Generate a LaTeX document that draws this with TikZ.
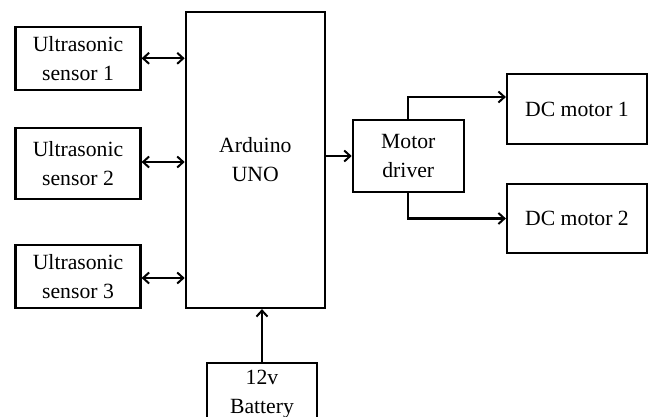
\documentclass[tikz,border=0pt]{standalone}
\usepackage{fontspec}
\setmainfont{Liberation Serif}
\usetikzlibrary{arrows.meta}
\begin{document}
\begin{tikzpicture}[x=1pt,y=-1pt,
  blk/.style={draw,line width=2.2pt,inner sep=0pt,align=center,
    font=\fontsize{21.7}{29}\selectfont},
  tip/.style={Straight Barb[length=6pt,width=11pt,line width=2pt]},
  conn/.style={line width=2.2pt,-{Straight Barb[length=6pt,width=11pt,line width=2pt]}},
  bconn/.style={line width=2.2pt,{Straight Barb[length=6pt,width=11pt,line width=2pt]}-{Straight Barb[length=6pt,width=11pt,line width=2pt]}}]
\useasboundingbox (0,0) rectangle (651,416);
\clip (0,0) rectangle (651,416);
\fill[white] (0,0) rectangle (651,416);
\node[blk,minimum width=125pt,minimum height=63pt] (s1) at (78,58.3) {Ultrasonic\\sensor 1};
\node[blk,minimum width=125pt,minimum height=71pt] (s2) at (78,163.5) {Ultrasonic\\sensor 2};
\node[blk,minimum width=125pt,minimum height=63pt] (s3) at (78,276.5) {Ultrasonic\\sensor 3};
\node[blk,minimum width=139pt,minimum height=296pt] (ard) at (255.3,160) {Arduino\\UNO};
\node[blk,minimum width=111pt,minimum height=72pt] (md) at (408.3,156) {Motor\\driver};
\node[blk,minimum width=140pt,minimum height=70pt] (m1) at (577,109) {DC motor 1};
\node[blk,minimum width=140pt,minimum height=69pt] (m2) at (577,218.5) {DC motor 2};
\node[blk,minimum width=110pt,minimum height=62pt] (bat) at (262,394) {12v\\Battery};
\draw[bconn] (s1.east) -- (s1.east -| ard.west);
\draw[bconn] ([yshift=1.5pt]s2.east) -- ([yshift=1.5pt]s2.east -| ard.west);
\draw[bconn] ([yshift=-1.5pt]s3.east) -- ([yshift=-1.5pt]s3.east -| ard.west);
\draw[conn] (ard.east |- md.west) -- (md.west);
\draw[conn] (md.north) |- ([yshift=12pt]m1.west);
\draw[conn] (md.south) |- (m2.west);
\draw[conn] (bat.north) -- (bat.north |- ard.south);
\end{tikzpicture}
\end{document}
